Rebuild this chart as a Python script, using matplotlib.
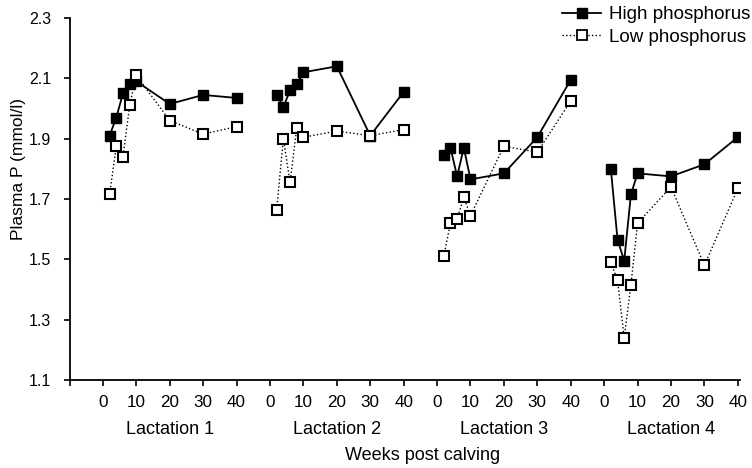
import numpy as np
import matplotlib
matplotlib.use("Agg")
import matplotlib.pyplot as plt
from matplotlib.lines import Line2D
import matplotlib.transforms as mtransforms

plt.rcParams['font.family'] = ['Liberation Sans', 'DejaVu Sans']

# weeks post calving sampled in each lactation
weeks = [2, 4, 6, 8, 10, 20, 30, 40]
lactations = ['Lactation 1', 'Lactation 2', 'Lactation 3', 'Lactation 4']

# plasma P (mmol/l), high phosphorus diet
high_l1 = [1.91, 1.97, 2.05, 2.08, 2.09, 2.015, 2.045, 2.035]
high_l2 = [2.045, 2.005, 2.06, 2.08, 2.12, 2.14, 1.91, 2.055]
high_l3 = [1.845, 1.87, 1.775, 1.87, 1.765, 1.785, 1.905, 2.095]
high_l4 = [1.80, 1.565, 1.495, 1.715, 1.785, 1.775, 1.815, 1.905]

# plasma P (mmol/l), low phosphorus diet
low_l1 = [1.715, 1.875, 1.84, 2.01, 2.11, 1.96, 1.915, 1.94]
low_l2 = [1.665, 1.90, 1.755, 1.935, 1.905, 1.925, 1.91, 1.93]
low_l3 = [1.51, 1.62, 1.635, 1.705, 1.645, 1.875, 1.855, 2.025]
low_l4 = [1.49, 1.43, 1.24, 1.415, 1.62, 1.74, 1.48, 1.735]

high = [high_l1, high_l2, high_l3, high_l4]
low = [low_l1, low_l2, low_l3, low_l4]

group_width = 50  # each lactation occupies 50 units on the shared axis

fig = plt.figure(figsize=(7.52, 4.68), dpi=100)
ax = fig.add_axes([69.5 / 752, 1 - 380 / 468, 670 / 752, 362 / 468])

for i in range(len(lactations)):
    x = np.array(weeks) + i * group_width
    ax.plot(x, high[i], color='black', lw=1.3, marker='s', ms=7,
            mfc='black', mec='black', zorder=3)
    ax.plot(x, low[i], color='black', lw=1.0, ls=':', marker='s', ms=7,
            mfc='white', mec='black', mew=1.5, zorder=4)

ax.set_xlim(-10, 190.5)
ax.set_ylim(1.1, 2.3)
yt = np.arange(1.1, 2.31, 0.2)
ax.set_yticks(yt)
ax.set_yticklabels(['%.1f' % v for v in yt])

xt = np.arange(-10, 191, 10)
ax.set_xticks(xt)
ax.set_xticklabels(['' if p < 0 else str(p % group_width) for p in xt])

for s in ['top', 'right']:
    ax.spines[s].set_visible(False)
for s in ['left', 'bottom']:
    ax.spines[s].set_linewidth(1.3)
ax.tick_params(axis='both', direction='out', length=4, width=1.2,
               colors='black')
ax.tick_params(axis='x', pad=7, labelsize=12.3)
ax.tick_params(axis='y', pad=9, labelsize=11.5)

trans = mtransforms.blended_transform_factory(ax.transData, fig.transFigure)
for i, name in enumerate(lactations):
    ax.text(20 + i * group_width, 1 - 430 / 468, name, transform=trans,
            ha='center', va='center', fontsize=13)

fig.text(423 / 752, 1 - 456 / 468, 'Weeks post calving', ha='center',
         va='center', fontsize=13)
fig.text(19 / 752, 1 - 169 / 468, 'Plasma P (mmol/l)', rotation=90,
         ha='center', va='center', fontsize=12.5)

handles = [
    Line2D([], [], color='black', lw=1.3, marker='s', ms=6.5,
           mfc='black', mec='black'),
    Line2D([], [], color='black', lw=1.0, ls=':', marker='s', ms=6.5,
           mfc='white', mec='black', mew=1.3),
]
fig.legend(handles, ['High phosphorus', 'Low phosphorus'],
           loc='upper left', bbox_to_anchor=(562 / 752, 1 - 6 / 468),
           frameon=False, fontsize=13.5, handlelength=2.1, handletextpad=0.4,
           labelspacing=0.3, borderpad=0, borderaxespad=0)

fig.savefig('out.png', dpi=100)
